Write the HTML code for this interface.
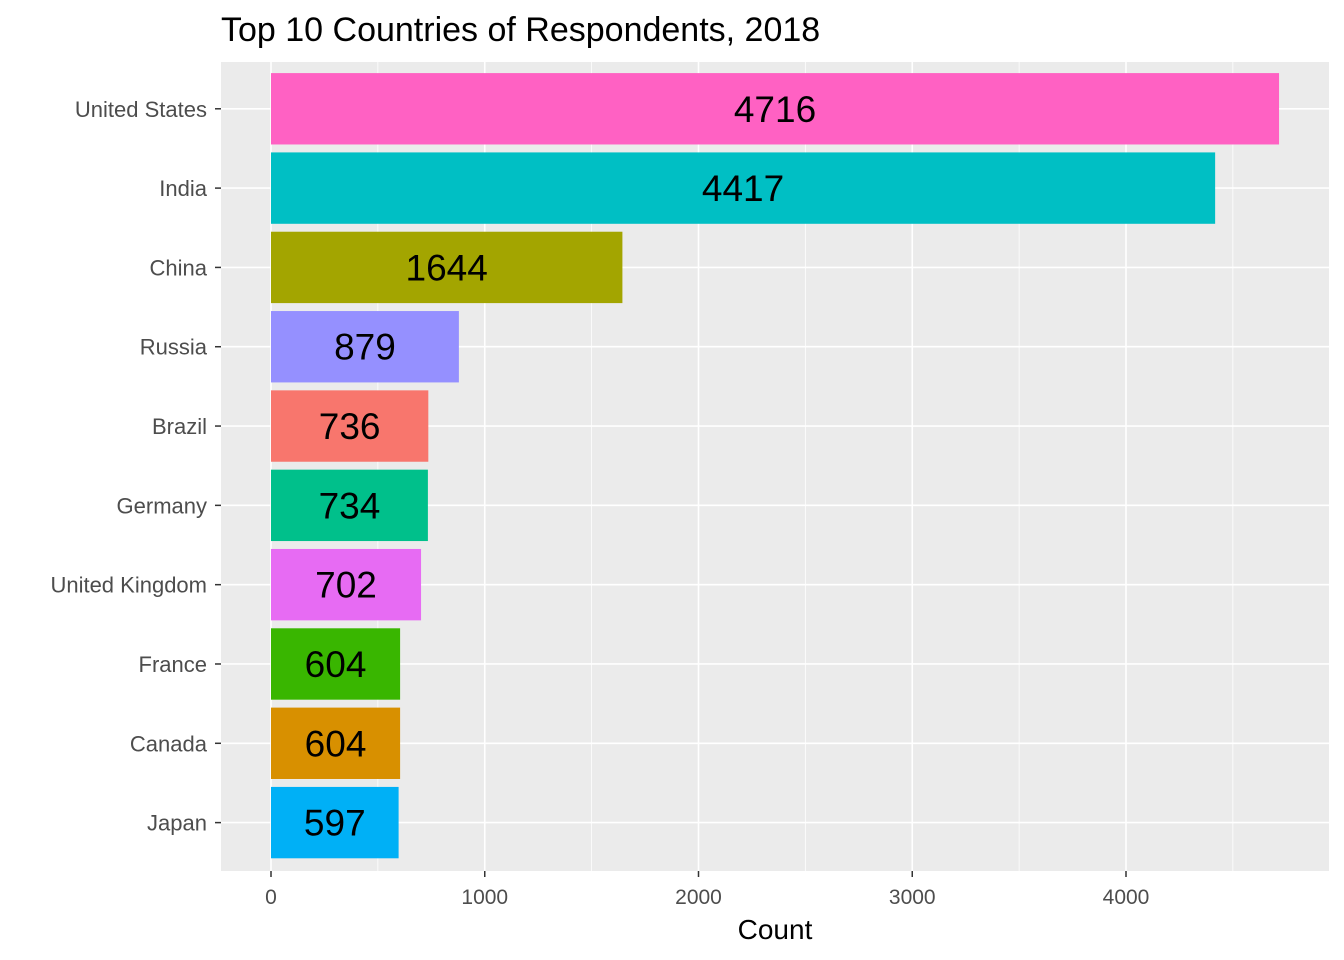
<!DOCTYPE html>
<html><head><meta charset="utf-8"><style>body{margin:0;background:#fff}svg{display:block;font-family:"Liberation Sans",Arial,sans-serif}</style></head>
<body>
<svg id="chart" width="1344" height="960" viewBox="0 0 1344 960">
<text x="221" y="41" font-size="34" fill="#000">Top 10 Countries of Respondents, 2018</text>
<rect x="221" y="62" width="1108" height="809" fill="#EBEBEB"/>
<g id="grid"></g><g id="bars"></g><g id="axes"></g>
<text x="775" y="939" font-size="28" text-anchor="middle" fill="#000">Count</text>
</svg>
<script>
const categories=["United States","India","China","Russia","Brazil","Germany","United Kingdom","France","Canada","Japan"];
const counts=[4716,4417,1644,879,736,734,702,604,604,597];
const colors=["#FF61C3","#00BFC4","#A3A500","#9590FF","#F8766D","#00C08B","#E76BF3","#39B600","#D89000","#00B0F6"];
const xTicks=[0,1000,2000,3000,4000];
const NS="http://www.w3.org/2000/svg";
const px0=221,px1=1329,py0=62,py1=871;
const x=v=>271+v*0.21375;
const band=(py1-py0)/(categories.length+0.2);
const yc=i=>py0+band*0.6+i*band-0.8;
function mk(p,t,a){const e=document.createElementNS(NS,t);for(const k in a)e.setAttribute(k,a[k]);p.appendChild(e);return e;}
const grid=document.getElementById('grid'),bars=document.getElementById('bars'),axes=document.getElementById('axes');
for(let i=0;i<xTicks.length;i++){
 const m=mk(grid,'line',{x1:x(xTicks[i]+500),x2:x(xTicks[i]+500),y1:py0,y2:py1,stroke:'#fff','stroke-width':0.8});
 
 const g=mk(grid,'line',{x1:x(xTicks[i]),x2:x(xTicks[i]),y1:py0,y2:py1,stroke:'#fff','stroke-width':1.6});
 
 const tk=mk(axes,'line',{x1:x(xTicks[i]),x2:x(xTicks[i]),y1:py1,y2:py1+6,stroke:'#333','stroke-width':1.5});
 
 const t=mk(axes,'text',{x:x(xTicks[i]),y:904,'font-size':21,'text-anchor':'middle',fill:'#4D4D4D'});
 t.textContent=xTicks[i];
}
categories.forEach((c,i)=>{
 const y=yc(i);
 const g=mk(grid,'line',{x1:px0,x2:px1,y1:y,y2:y,stroke:'#fff','stroke-width':1.6});
 
 const h=band*0.9;
 const r=mk(bars,'rect',{x:x(0),y:y-h/2,width:x(counts[i])-x(0),height:h,fill:colors[i]});
 
 const v=mk(bars,'text',{x:x(counts[i]/2),y:y+13,'font-size':37,'text-anchor':'middle',fill:'#000'});
 v.textContent=counts[i];
 const tk=mk(axes,'line',{x1:px0-6,x2:px0,y1:y,y2:y,stroke:'#333','stroke-width':1.5});
 
 const t=mk(axes,'text',{x:207,y:y+8,'font-size':22,'text-anchor':'end',fill:'#4D4D4D'});
 t.textContent=c;
});
</script>
</body></html>
